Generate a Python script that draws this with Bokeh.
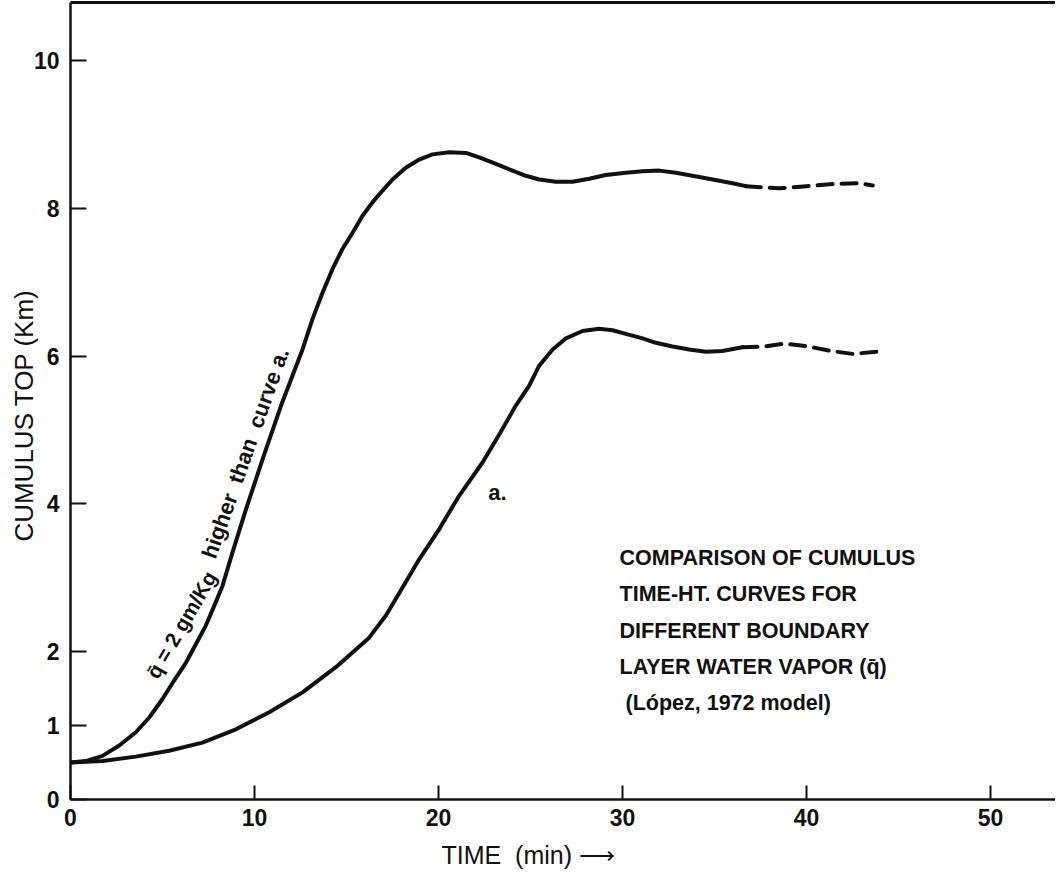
from bokeh.plotting import figure
from bokeh.models import Range1d, FixedTicker, LinearAxis, Label
from bokeh.embed import file_html
from bokeh.resources import INLINE

# --- data (time in min, cumulus top in km) ---
time_a_solid = [0, 1.74, 3.55, 5.36, 7.17, 8.99, 10.8, 12.61, 14.42, 16.23, 17.14, 17.86, 18.95, 20.04,
                21.12, 22.39, 23.30, 24.20, 24.93, 25.47, 26.2, 26.92, 27.83, 28.73, 29.46, 30.18,
                31.09, 31.81, 32.72, 33.62, 34.53, 35.43, 36.52]
top_a_solid = [0.50, 0.52, 0.58, 0.66, 0.77, 0.95, 1.18, 1.45, 1.79, 2.19, 2.49, 2.79, 3.25, 3.66,
               4.11, 4.56, 4.94, 5.33, 5.60, 5.87, 6.09, 6.24, 6.34, 6.37, 6.35, 6.30,
               6.24, 6.18, 6.13, 6.09, 6.06, 6.07, 6.12]
time_a_dash = [36.52, 37.7, 38.8, 40.1, 41.3, 42.5, 43.9]
top_a_dash = [6.12, 6.13, 6.17, 6.13, 6.07, 6.03, 6.06]

time_b_solid = [0, 0.83, 1.74, 2.65, 3.55, 4.28, 5.0, 5.63, 6.27, 6.81, 7.35, 7.81, 8.26, 8.80, 9.5,
                10.5, 11.5, 12.61, 13.15, 13.70, 14.24, 14.78, 15.33, 15.87, 16.41, 16.96, 17.50,
                18.22, 18.95, 19.67, 20.58, 21.49, 22.21, 23.12, 24.02, 24.75, 25.47, 26.38, 27.28,
                28.19, 29.09, 30.18, 31.09, 32.0, 32.9, 33.8, 34.9, 35.98, 36.7]
top_b_solid = [0.50, 0.52, 0.59, 0.73, 0.91, 1.11, 1.36, 1.61, 1.85, 2.10, 2.35, 2.62, 2.89, 3.34, 3.90,
               4.65, 5.37, 6.09, 6.50, 6.86, 7.18, 7.45, 7.67, 7.90, 8.08, 8.24, 8.39,
               8.55, 8.66, 8.73, 8.76, 8.75, 8.69, 8.60, 8.51, 8.44, 8.39, 8.36, 8.36,
               8.40, 8.45, 8.48, 8.50, 8.51, 8.48, 8.44, 8.39, 8.34, 8.30]
time_b_dash = [36.7, 37.8, 38.5, 40.0, 41.5, 42.8, 43.6]
top_b_dash = [8.30, 8.28, 8.27, 8.30, 8.33, 8.34, 8.31]

x_ticks = [0, 10, 20, 30, 40, 50]
y_ticks = [0, 1, 2, 4, 6, 8, 10]

note_lines = ["COMPARISON OF CUMULUS", "TIME-HT. CURVES FOR", "DIFFERENT BOUNDARY",
              "LAYER WATER VAPOR (q\u0304)", "(L\u00f3pez, 1972 model)"]
curve_b_label_1 = "q\u0304 = 2 gm/Kg"
curve_b_label_2 = "higher\u00a0 than\u00a0 curve a."
curve_a_label = "a."
x_title = "TIME\u00a0 (min)\u00a0\u27f6"
y_title = "CUMULUS TOP (Km)"

FONT = "Liberation Sans"
INK = "#111111"
NBSP = "\u00a0"

p = figure(width=1055, height=877, x_range=Range1d(0, 53.53), y_range=Range1d(0, 10.785),
           output_backend="svg", toolbar_location=None,
           min_border_left=70, min_border_right=0, min_border_top=2, min_border_bottom=78)
p.xaxis.visible = False
p.yaxis.visible = False
p.grid.visible = False
p.outline_line_color = None
p.background_fill_color = "white"
p.border_fill_color = "white"

def style_axis(ax, tick_in):
    ax.axis_line_color = INK
    ax.axis_line_width = 2.5
    ax.major_tick_line_color = INK
    ax.major_tick_line_width = 2
    ax.major_tick_in = tick_in
    ax.major_tick_out = 0
    ax.minor_tick_line_color = None
    ax.major_label_text_font = FONT
    ax.major_label_text_font_style = "bold"
    ax.major_label_text_font_size = "23px"
    ax.major_label_text_color = INK

xa = LinearAxis(ticker=FixedTicker(ticks=x_ticks), axis_label=x_title + NBSP * 10)
style_axis(xa, 14)
xa.major_label_standoff = 9
xa.axis_label_text_font = FONT
xa.axis_label_text_font_style = "normal"
xa.axis_label_text_font_size = "25px"
xa.axis_label_text_color = INK
xa.axis_label_standoff = 12
p.add_layout(xa, "below")

ya = LinearAxis(ticker=FixedTicker(ticks=y_ticks), axis_label=y_title + NBSP * 4)
style_axis(ya, 16)
ya.major_label_standoff = 11
ya.axis_label_text_font = FONT
ya.axis_label_text_font_style = "normal"
ya.axis_label_text_font_size = "26px"
ya.axis_label_text_color = INK
ya.axis_label_standoff = -8
p.add_layout(ya, "left")

top = LinearAxis(ticker=FixedTicker(ticks=[]))
top.axis_line_color = INK
top.axis_line_width = 3
top.major_tick_line_color = None
top.minor_tick_line_color = None
top.major_label_text_font_size = "0px"
top.major_label_standoff = 0
top.major_tick_out = 0
p.add_layout(top, "above")

lw = 4
p.line(time_a_solid, top_a_solid, line_color=INK, line_width=lw, line_cap="round", line_join="round")
p.line(time_b_solid, top_b_solid, line_color=INK, line_width=lw, line_cap="round", line_join="round")
p.line(time_a_dash, top_a_dash, line_color=INK, line_width=lw, line_dash="15 9", line_cap="round")
p.line(time_b_dash, top_b_dash, line_color=INK, line_width=lw, line_dash="15 9", line_cap="round")

p.add_layout(Label(x=4.4, y=1.664, text=curve_b_label_1, angle=1.047, text_font=FONT,
                   text_font_style="bold", text_font_size="21px", text_color=INK,
                   text_align="left", text_baseline="alphabetic"))
p.add_layout(Label(x=7.5, y=3.275, text=curve_b_label_2, angle=1.2305, text_font=FONT,
                   text_font_style="bold", text_font_size="22px", text_color=INK,
                   text_align="left", text_baseline="alphabetic"))
p.add_layout(Label(x=23.2, y=4.15, text=curve_a_label, text_font=FONT, text_font_style="bold",
                   text_font_size="22px", text_color=INK, text_align="center", text_baseline="middle"))

note_y = [3.27, 2.776, 2.283, 1.795, 1.308]
note_x = [29.84, 29.84, 29.84, 29.84, 30.16]
for tx, xx, yy in zip(note_lines, note_x, note_y):
    p.add_layout(Label(x=xx, y=yy, text=tx, text_font=FONT, text_font_style="bold",
                       text_font_size="21.5px", text_color=INK, text_align="left", text_baseline="middle"))

open("out.html", "w").write(file_html(p, INLINE))
